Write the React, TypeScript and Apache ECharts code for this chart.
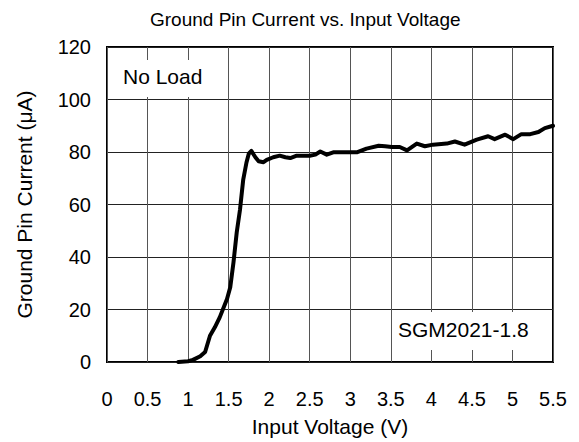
import React, { useEffect, useRef } from "react";
import * as echarts from "echarts";

const voltage = [0.88, 1.0, 1.06, 1.15, 1.21, 1.27, 1.33, 1.39, 1.48, 1.52, 1.56, 1.6, 1.64, 1.68, 1.72, 1.75, 1.78, 1.83, 1.87, 1.93, 1.97, 2.05, 2.13, 2.2, 2.26, 2.34, 2.5, 2.57, 2.63, 2.71, 2.79, 2.87, 3.0, 3.08, 3.2, 3.35, 3.43, 3.51, 3.61, 3.7, 3.82, 3.92, 4.02, 4.19, 4.29, 4.41, 4.56, 4.7, 4.78, 4.91, 5.01, 5.11, 5.22, 5.32, 5.4, 5.5];
const current = [0, 0.3, 0.8, 2.2, 3.8, 10, 13.2, 17, 24, 28.5, 38, 49.4, 58, 69.5, 76, 79.5, 80.4, 78, 76.5, 76.1, 77, 78, 78.6, 78, 77.7, 78.6, 78.6, 79, 80.2, 79, 79.9, 79.9, 79.9, 79.9, 81.3, 82.4, 82.2, 81.9, 81.9, 80.6, 83.2, 82.2, 82.8, 83.2, 84, 82.8, 84.7, 86, 84.9, 86.6, 84.9, 86.8, 86.8, 87.6, 89.1, 90];

const titleText = "Ground Pin Current vs. Input Voltage";
const xName = "Input Voltage (V)";
const yName = "Ground Pin Current (μA)";
const noteTopLeft = "No Load";
const noteBottomRight = "SGM2021-1.8";

const FONT = "'Liberation Sans', Arial, sans-serif";

export default function App() {
  const ref = useRef<HTMLDivElement>(null);
  useEffect(() => {
    document.body.style.margin = "0";
    if (!ref.current) return;
    const chart = echarts.init(ref.current, undefined, { renderer: "svg" });
    const data = voltage.map((v, i) => [v, current[i]]);
    chart.setOption({
      animation: false,
      backgroundColor: "#fff",
      textStyle: { fontFamily: FONT },
      title: {
        text: titleText,
        left: 145,
        top: 5,
        textStyle: { fontFamily: FONT, fontSize: 19, fontWeight: "normal", color: "#000" },
      },
      grid: {
        left: 107,
        top: 47,
        right: 26,
        bottom: 79,
        show: true,
        borderColor: "#000",
        borderWidth: 2,
        backgroundColor: "transparent",
      },
      xAxis: {
        type: "value",
        min: 0,
        max: 5.5,
        interval: 0.5,
        name: xName,
        nameLocation: "middle",
        nameGap: 54,
        nameTextStyle: { fontFamily: FONT, fontSize: 21, color: "#000" },
        axisLine: { show: false },
        axisTick: { show: false },
        axisLabel: { fontFamily: FONT, fontSize: 20, color: "#000", margin: 27 },
        splitLine: { show: true, lineStyle: { color: "#555", width: 1 } },
      },
      yAxis: {
        type: "value",
        min: 0,
        max: 120,
        interval: 20,
        name: yName,
        nameLocation: "middle",
        nameGap: 72,
        nameTextStyle: { fontFamily: FONT, fontSize: 21, color: "#000" },
        axisLine: { show: false },
        axisTick: { show: false },
        axisLabel: { fontFamily: FONT, fontSize: 20, color: "#000", margin: 16 },
        splitLine: { show: true, lineStyle: { color: "#222", width: 1 } },
      },
      graphic: [
        {
          type: "rect",
          shape: { x: 108, y: 60, width: 106, height: 37 },
          style: { fill: "#fff" },
          z: 10,
        },
        {
          type: "text",
          x: 123,
          y: 76,
          style: {
            text: noteTopLeft,
            fontFamily: FONT,
            fontSize: 21,
            fill: "#000",
            verticalAlign: "middle",
          },
          z: 11,
        },
        {
          type: "rect",
          shape: { x: 392, y: 312, width: 150, height: 38 },
          style: { fill: "#fff" },
          z: 10,
        },
        {
          type: "text",
          x: 398,
          y: 329,
          style: {
            text: noteBottomRight,
            fontFamily: FONT,
            fontSize: 21,
            fill: "#000",
            verticalAlign: "middle",
          },
          z: 11,
        },
      ],
      series: [
        {
          type: "line",
          data,
          showSymbol: false,
          symbol: "none",
          lineStyle: { color: "#000", width: 4, join: "round", cap: "round" },
          z: 5,
        },
      ],
    });
    return () => chart.dispose();
  }, []);
  return <div ref={ref} style={{ width: 579, height: 442 }} />;
}
